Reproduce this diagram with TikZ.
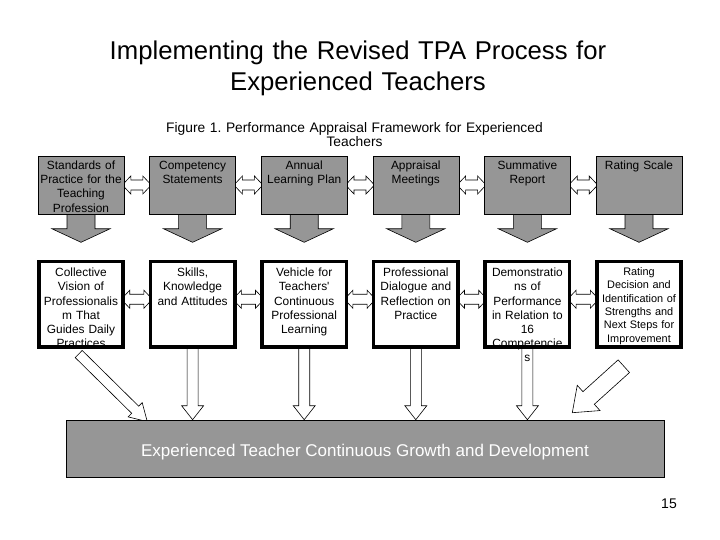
\documentclass[tikz,border=0pt]{standalone}
\usepackage{fontspec}
\setmainfont{Liberation Sans}
\usetikzlibrary{positioning, calc, backgrounds}
\frenchspacing

\definecolor{panelgray}{RGB}{150,150,150}

% block arrow: [style]{tail}{tip}{shaft half width}{head half width}{head length}
\newcommand{\blockarrow}[6][]{%
  \coordinate (ba-neck) at ($(#3)!#6!(#2)$);
  \draw[#1] ($(#2)!#4!90:(#3)$) -- ($(ba-neck)!#4!90:(#3)$) -- ($(ba-neck)!#5!90:(#3)$) -- (#3)
    -- ($(ba-neck)!#5!-90:(#3)$) -- ($(ba-neck)!#4!-90:(#3)$) -- ($(#2)!#4!-90:(#3)$) -- cycle;}

% double block arrow: [style]{end a}{end b}{shaft half width}{head half width}{head length}
\newcommand{\dblarrow}[6][]{%
  \coordinate (da-a) at ($(#2)!#6!(#3)$);
  \coordinate (da-b) at ($(#3)!#6!(#2)$);
  \draw[#1] (#2) -- ($(da-a)!#5!90:(#3)$) -- ($(da-a)!#4!90:(#3)$) -- ($(da-b)!#4!90:(#3)$)
    -- ($(da-b)!#5!90:(#3)$) -- (#3) -- ($(da-b)!#5!-90:(#3)$) -- ($(da-b)!#4!-90:(#3)$)
    -- ($(da-a)!#4!-90:(#3)$) -- ($(da-a)!#5!-90:(#3)$) -- cycle;}

\begin{document}
\begin{tikzpicture}[
    x=1bp, y=-1bp,
    font=\fontsize{11.9bp}{14.2bp}\selectfont,
    topbox/.style={
        rectangle, draw=black, line width=0.6bp, fill=panelgray,
        minimum width=86bp, text width=84bp, inner xsep=1bp, inner ysep=2bp,
        text height=11.5bp, text depth=42.5bp,
        align=center
    },
    lowbox/.style={
        rectangle, fill=white,
        minimum width=84bp, text width=80bp, inner xsep=2bp, inner ysep=2bp,
        text height=13.25bp, text depth=68.25bp,
        align=center
    },
    basebox/.style={
        rectangle, draw=black, line width=0.6bp, fill=panelgray,
        minimum width=598bp, minimum height=57bp,
        text height=18bp, text depth=3bp,
        text=white, font=\fontsize{17bp}{19bp}\selectfont
    },
    frame/.style={draw=black, line width=3.5bp},
    grayarrow/.style={draw=black, line width=0.6bp, fill=panelgray, line join=miter},
    whitearrow/.style={draw=black, line width=0.6bp, fill=white, line join=miter}
]
\useasboundingbox (0,0) rectangle (720,540);

% ============ Titles ============
\node[anchor=north, inner sep=0pt, text width=600bp, align=center, text height=18.8bp,
      font=\fontsize{25.7bp}{31bp}\selectfont] (title) at (358,40.5)
    {Implementing the Revised TPA Process for\\Experienced Teachers};
\node[anchor=north, inner sep=0pt, text width=500bp, align=center, text height=10bp,
      font=\fontsize{13.8bp}{14bp}\selectfont] (caption) at (354.5,122)
    {Figure 1. Performance Appraisal Framework for Experienced\\Teachers};

% ============ Top row ============
\node[topbox] (std) at (81,185) {Standards of\\Practice for the\\Teaching\\Profession};
\node[topbox, right=25bp of std] (comp) {Competency\\Statements};
\node[topbox, right=25bp of comp] (alp) {Annual\\Learning Plan};
\node[topbox, right=25bp of alp] (meet) {Appraisal\\Meetings};
\node[topbox, right=25bp of meet] (summ) {Summative\\Report};
\node[topbox, right=25bp of summ] (scale) {Rating Scale};

% ============ Lower row ============
\node[lowbox, below=47bp of std] (vis) {Collective\\Vision of\\Professionalis\\m That\\Guides Daily\\Practices};
\node[lowbox, below=47bp of comp] (skills) {Skills,\\Knowledge\\and Attitudes};
\node[lowbox, below=47bp of alp] (vehicle) {Vehicle for\\Teachers\textquotesingle\\Continuous\\Professional\\Learning};
\node[lowbox, below=47bp of meet] (dialogue) {Professional\\Dialogue and\\Reflection on\\Practice};
\node[lowbox, below=47bp of summ] (demo) {Demonstratio\\ns of\\Performance\\in Relation to\\16\\Competencie\\s};
\node[lowbox, below=47bp of scale, text height=12bp, text depth=69.5bp,
      font=\fontsize{10.9bp}{13.3bp}\selectfont] (rate)
    {Rating\\Decision and\\Identification of\\Strengths and\\Next Steps for\\Improvement};

\foreach \n in {vis,skills,vehicle,dialogue,demo,rate}
    \draw[frame] (\n.north west) rectangle (\n.south east);

% ============ Base ============
\node[basebox] (growth) at (365,448.5) {Experienced Teacher Continuous Growth and Development};

\node[anchor=base, font=\fontsize{14bp}{16bp}\selectfont] (page) at (669,508) {15};

% ============ Arrows ============
\begin{scope}[on background layer]
    \foreach \n in {std,comp,alp,meet,summ,scale} {
        \coordinate (\n-tip) at ([yshift=-28bp]\n.south);
        \blockarrow[grayarrow]{\n.south}{\n-tip}{14bp}{29bp}{13.5bp}
    }
    \foreach \a/\b in {std/comp,comp/alp,alp/meet,meet/summ,summ/scale} {
        \coordinate (l) at ([xshift=-2bp]\a.east);
        \coordinate (r) at ([xshift=2bp]\b.west);
        \dblarrow[whitearrow]{l}{r}{5bp}{9bp}{8.5bp}
    }
    \foreach \a/\b in {vis/skills,skills/vehicle,vehicle/dialogue,dialogue/demo,demo/rate} {
        \coordinate (l) at ([xshift=-2bp,yshift=5bp]\a.east);
        \coordinate (r) at ([xshift=2bp,yshift=5bp]\b.west);
        \dblarrow[whitearrow]{l}{r}{5bp}{9bp}{8.5bp}
    }
    \foreach \n in {skills,vehicle,dialogue,demo} {
        \coordinate (\n-tip) at (\n.south |- growth.north);
        \blockarrow[whitearrow]{\n.south}{\n-tip}{5.5bp}{11bp}{14bp}
    }
    \coordinate (vis-tail) at ([xshift=-2.3bp,yshift=-6.8bp]vis.south);
    \coordinate (vis-tip) at (147.3,421.7);
    \blockarrow[whitearrow]{vis-tail}{vis-tip}{5bp}{10bp}{17bp}
    \coordinate (rate-tail) at ([xshift=-15.2bp,yshift=-19bp]rate.south);
    \coordinate (rate-tip) at (572.3,412.7);
    \blockarrow[whitearrow]{rate-tail}{rate-tip}{8.5bp}{17bp}{22bp}
\end{scope}

\end{tikzpicture}
\end{document}
